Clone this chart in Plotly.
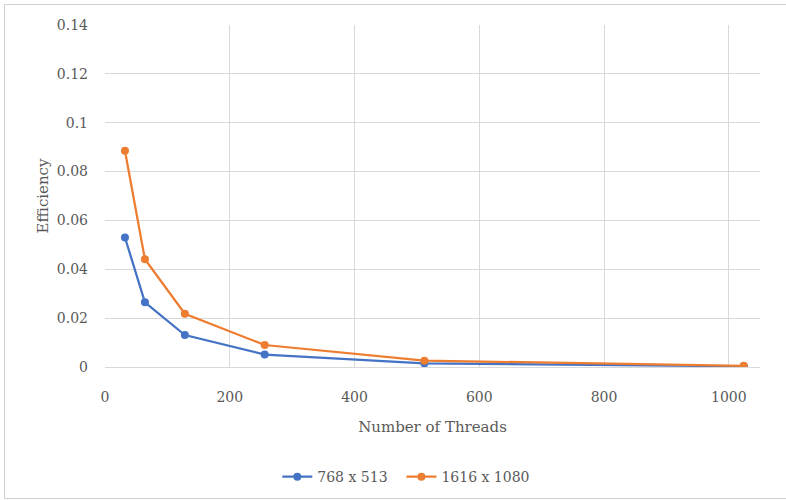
import plotly.graph_objects as go

threads = [32, 64, 128, 256, 512, 1024]
eff_small = [0.0530, 0.0265, 0.0131, 0.0051, 0.0015, 0.0003]
eff_large = [0.0885, 0.0441, 0.0218, 0.0090, 0.0026, 0.0005]
series_names = ["768 x 513\u00a0\u00a0", "1616 x 1080"]
colors = ["#4472C4", "#ED7D31"]

FONT = "DejaVu Serif"
GRAY = "#595959"
BORDER = "#D0D0D0"

fig = go.Figure()
for name, ys, c in zip(series_names, [eff_small, eff_large], colors):
    fig.add_trace(go.Scatter(
        x=threads, y=ys, name=name, mode="lines+markers",
        line=dict(color=c, width=2.25),
        marker=dict(color=c, size=8),
    ))

fig.update_layout(
    width=786, height=500,
    margin=dict(l=105, r=26, t=25, b=133, autoexpand=False),
    paper_bgcolor="white", plot_bgcolor="white",
    font=dict(family=FONT, color=GRAY, size=14),
    showlegend=True,
    legend=dict(orientation="h", x=0.46, xanchor="center", y=-0.322, yanchor="middle",
                font=dict(size=14, color=GRAY, family=FONT)),
    xaxis=dict(range=[0, 1050], tickvals=[0, 200, 400, 600, 800, 1000],
               showgrid=True, gridcolor="#D9D9D9", gridwidth=1, automargin=False,
               zeroline=False, showline=False, ticks="", ticklabelstandoff=20,
               tickfont=dict(size=14, color=GRAY, family=FONT),
               title=dict(text="Number of Threads", font=dict(size=15, color=GRAY, family=FONT), standoff=17)),
    yaxis=dict(range=[0, 0.14], tickvals=[0, 0.02, 0.04, 0.06, 0.08, 0.1, 0.12, 0.14],
               ticktext=["0", "0.02", "0.04", "0.06", "0.08", "0.1", "0.12", "0.14"],
               showgrid=True, gridcolor="#D9D9D9", gridwidth=1, automargin=False,
               zeroline=True, zerolinecolor="#D9D9D9", zerolinewidth=1,
               showline=False, ticks="", ticklabelstandoff=16,
               tickfont=dict(size=14, color=GRAY, family=FONT),
               title=dict(text="Efficiency", font=dict(size=15, color=GRAY, family=FONT), standoff=4)),
)

bx0 = (4.5 - 105) / 655
by0 = (367 - 498.5) / 342
by1 = (367 - 4.5) / 342
for (xa, ya, xb, yb) in [(bx0, by0, bx0, by1), (bx0, by1, 1.3, by1), (bx0, by0, 1.3, by0)]:
    fig.add_shape(type="line", xref="paper", yref="paper", x0=xa, y0=ya, x1=xb, y1=yb,
                  line=dict(color=BORDER, width=1), layer="below")

fig.write_html(
    "out.html",
    config={"displayModeBar": False},
    post_script=("document.body.style.margin='0';"
                 "document.body.style.overflow='hidden';"
                 "document.documentElement.style.overflow='hidden';"),
)
